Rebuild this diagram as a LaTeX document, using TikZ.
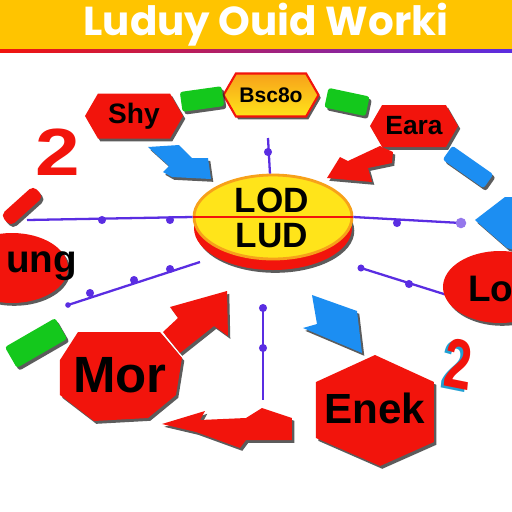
\documentclass[tikz,border=0pt]{standalone}
\usepackage{fontspec}
\setmainfont{Liberation Sans}
\newfontfamily\ttlfont{Poppins}
\usetikzlibrary{shapes.geometric, shapes.symbols, shadows}

\definecolor{tred}{HTML}{F2140C}
\definecolor{tyel}{HTML}{FFC400}
\definecolor{tsun}{HTML}{FFE41A}
\definecolor{torng}{HTML}{F7A11A}
\definecolor{tblue}{HTML}{1C8EF2}
\definecolor{tgreen}{HTML}{14C81C}
\definecolor{tlink}{HTML}{5A2DE2}

\begin{document}
\begin{tikzpicture}[x=0.02cm, y=-0.02cm,
		every node/.style={font=\bfseries},
		shd/.style={drop shadow={shadow xshift=1.3pt, shadow yshift=-1.6pt,
			opacity=0.75, fill=black!85}},
		redbox/.style={fill=tred, shd},
		hexbox/.style={signal, signal to=east and west,
			signal pointer angle=120, redbox, inner sep=0pt},
		barbox/.style={rectangle, inner sep=0pt, rounded corners=1.5pt, shd},
		lnk/.style={draw=tlink, line width=1.3pt}]
		% Drawing units are pixels of a 512 by 512 frame, y pointing down.
		\def\px{0.02cm}

		\useasboundingbox (0,0) rectangle (512,512);
		\clip (0,0) rectangle (512,512);
		\fill[white] (0,0) rectangle (512,512);

		% Title banner.
		\fill[tyel] (0,0) rectangle (512,49);
		\shade[left color=tred, right color=tlink] (0,49) rectangle (512,52);
		\node[text=white, font=\ttlfont\bfseries\fontsize{23}{23}\selectfont]
			(title) at (266,25) {Luduy Ouid Worki};

		% The central disc, with its red rim underneath.
		\fill[tred, shd] (273,228) ellipse [x radius=79, y radius=42];
		\node[ellipse, fill=tsun, draw=torng, line width=1.6pt,
			minimum width=158*\px, minimum height=84*\px] (hub) at (273,217) {};
		\draw[tred, line width=0.8pt] (hub.west) -- (hub.east);
		\node[font=\bfseries\fontsize{20}{20}\selectfont] (lod) at (272,200) {LOD};
		\node[font=\bfseries\fontsize{20}{20}\selectfont] (lud) at (272,236) {LUD};

		% Thin links with their beads.
		\coordinate (nend) at (268,138);
		\coordinate (wend) at (27,220);
		\coordinate (eend) at (461,223);
		\coordinate (swa) at (200,262);
		\coordinate (swb) at (68,305);
		\coordinate (sea) at (361,268);
		\coordinate (seb) at (447,295);
		\coordinate (sa) at (263,308);
		\coordinate (sb) at (263,400);
		\draw[lnk] (nend) -- (hub.94);
		\draw[lnk] (wend) -- (hub.west);
		\draw[lnk] (hub.east) -- (eend);
		\draw[lnk] (swa) -- (swb);
		\draw[lnk] (sea) -- (seb);
		\draw[lnk] (sa) -- (sb);
		\foreach \x/\y in {268/152, 102/220, 170/220, 397/223, 90/293,
			134/280, 170/269, 409/284, 263/308, 263/348} {
			\fill[tlink] (\x,\y) circle [radius=2.3pt];
		}
		\fill[tlink!65] (eend) circle [radius=3pt];
		\fill[tlink] (swb) circle [radius=1.6pt];
		\fill[tlink] (sea) circle [radius=2pt];

		% Outer boxes.
		\node[hexbox, top color=torng, bottom color=tsun, draw=tred,
			line width=1.2pt, minimum width=95*\px, minimum height=43*\px,
			font=\bfseries\fontsize{12}{12}\selectfont] (basic) at (271,95) {Bsc8o};
		\node[hexbox, minimum width=98*\px, minimum height=45*\px,
			font=\bfseries\fontsize{16}{16}\selectfont] (shy) at (134,116) {Shy};
		\node[hexbox, minimum width=88*\px, minimum height=42*\px,
			font=\bfseries\fontsize{15}{15}\selectfont] (eara) at (414,126) {Eara};
		\node[ellipse, redbox, minimum width=112*\px, minimum height=70*\px]
			(ung) at (12,268) {};
		\node[anchor=west, font=\bfseries\fontsize{22}{22}\selectfont]
			(ungtext) at (0,266) {ung};
		\node[ellipse, redbox, minimum width=114*\px, minimum height=72*\px]
			(lo) at (500,287) {};
		\node[anchor=west, font=\bfseries\fontsize{21}{21}\selectfont]
			(lotext) at (462,289) {Lo};

		\fill[redbox] (78,332) -- (160,332) -- (182,358) -- (176,395) --
			(148,418) -- (94,421) -- (60,395) -- (60,360) -- cycle;
		\node[font=\bfseries\fontsize{29}{29}\selectfont] (mor) at (120,375) {Mor};
		\fill[redbox] (375,355) -- (434,382) -- (434,442) -- (380,466) --
			(316,438) -- (316,382) -- cycle;
		\node[font=\bfseries\fontsize{24}{24}\selectfont] (enek) at (375,408) {Enek};

		% Bars.
		\node[barbox, fill=tgreen, minimum width=42*\px, minimum height=20*\px,
			rotate=8] (gbarl) at (202,99) {};
		\node[barbox, fill=tgreen, minimum width=42*\px, minimum height=20*\px,
			rotate=-12] (gbarr) at (347,102) {};
		\node[barbox, fill=tgreen, minimum width=58*\px, minimum height=24*\px,
			rotate=30] (gbarb) at (36,343) {};
		\node[barbox, fill=tred, rounded corners=3pt, minimum width=44*\px,
			minimum height=15*\px, rotate=42] (rbar) at (22,206) {};
		\node[barbox, fill=tblue, minimum width=50*\px, minimum height=17*\px,
			rotate=-35] (bbar) at (468,167) {};

		% Arrows.
		\fill[tblue, shd] (148,147) -- (179,145) -- (192,158) -- (208,158) --
			(211,179) -- (172,177) -- (163,172) -- (169,166) -- cycle;
		\fill[tred, shd] (327,178) -- (340,157) -- (348,161) -- (380,146) --
			(393,152) -- (392,163) -- (368,168) -- (372,182) -- cycle;
		\fill[tblue, shd] (505,197) -- (514,197) -- (514,250) -- (507,248) --
			(475,220) -- cycle;
		\fill[tblue, shd] (312,295) -- (357,311) -- (362,353) -- (303,328) --
			(317,324) -- cycle;
		\fill[tred, shd] (227,291) -- (228,336) -- (214,326) -- (180,353) --
			(163,332) -- (178,318) -- (170,307) -- cycle;
		\fill[tred, shd] (162,424) -- (205,411) -- (200,420) -- (246,418) --
			(262,408) -- (292,418) -- (292,440) -- (246,440) -- (240,448) --
			(196,432) -- cycle;

		% Loose numerals.
		\node[text=tred, xscale=1.2, font=\bfseries\fontsize{38}{38}\selectfont]
			(twol) at (58,152) {2};
		\node[text=cyan!70!teal, xscale=0.7, rotate=-8,
			font=\bfseries\fontsize{40}{40}\selectfont] (twors) at (455,366) {2};
		\node[text=tred, xscale=0.7, rotate=-8,
			font=\bfseries\fontsize{40}{40}\selectfont] (twor) at (458,364) {2};
	\end{tikzpicture}
\end{document}
